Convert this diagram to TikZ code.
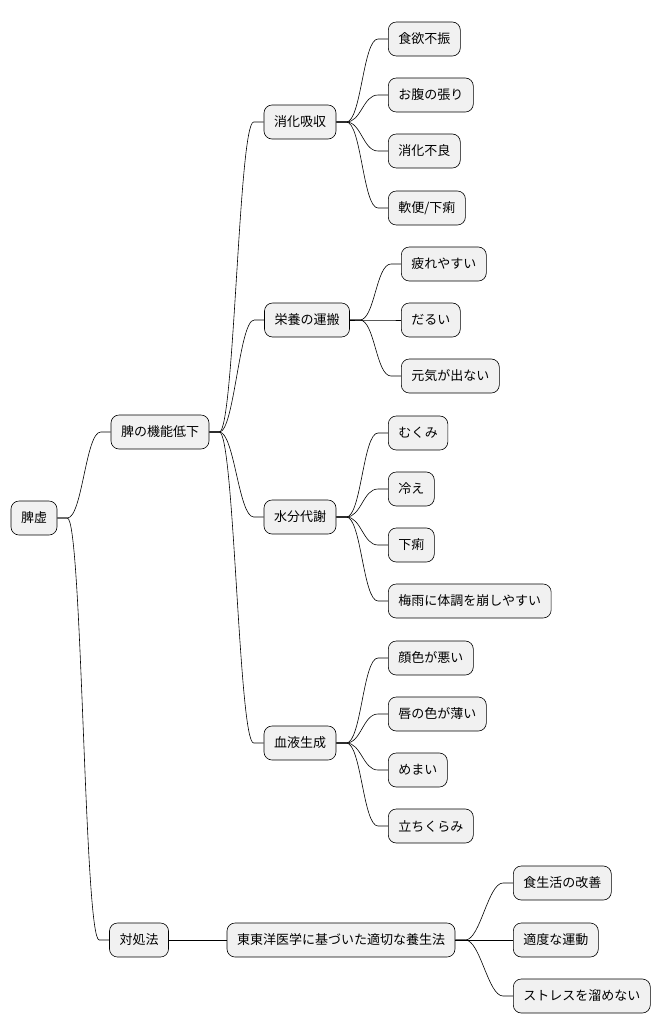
\documentclass[tikz,border=0pt]{standalone}
\usepackage{fontspec}
\setmainfont{Noto Sans CJK JP}
\tikzset{
  mmnode/.style={shape=rectangle, rounded corners=8pt, draw=black, line width=0.6pt,
    fill={rgb,255:red,241;green,241;blue,241}, minimum height=34pt, inner xsep=10pt,
    font=\fontsize{13}{15}\selectfont},
  mmlink/.style={line width=0.6pt}
}
\begin{document}
\begin{tikzpicture}[x=1pt, y=-1pt]
	\useasboundingbox (0,0) rectangle (670,1034);
	% Nodes:
	\node[mmnode] (root) at (34,518){脾虚};
	\node[mmnode] (kino) at (160,432){脾の機能低下};
	\node[mmnode] (taisho) at (139,940){対処法};
	\node[mmnode] (shoka) at (300,122){消化吸収};
	\node[mmnode] (eiyo) at (307,320){栄養の運搬};
	\node[mmnode] (suibun) at (300,517){水分代謝};
	\node[mmnode] (ketsueki) at (300,743){血液生成};
	\node[mmnode] (yojo) at (341,940){東東洋医学に基づいた適切な養生法};
	\node[mmnode, anchor=west] (s1) at (388,39){食欲不振};
	\node[mmnode, anchor=west] (s2) at (388,95){お腹の張り};
	\node[mmnode, anchor=west] (s3) at (388,151){消化不良};
	\node[mmnode, anchor=west] (s4) at (388,208){軟便/下痢};
	\node[mmnode, anchor=west] (e1) at (401,264){疲れやすい};
	\node[mmnode, anchor=west] (e2) at (401,320){だるい};
	\node[mmnode, anchor=west] (e3) at (401,376){元気が出ない};
	\node[mmnode, anchor=west] (w1) at (388,433){むくみ};
	\node[mmnode, anchor=west] (w2) at (388,489){冷え};
	\node[mmnode, anchor=west] (w3) at (388,545){下痢};
	\node[mmnode, anchor=west] (w4) at (388,601){梅雨に体調を崩しやすい};
	\node[mmnode, anchor=west] (b1) at (388,658){顔色が悪い};
	\node[mmnode, anchor=west] (b2) at (388,714){唇の色が薄い};
	\node[mmnode, anchor=west] (b3) at (388,770){めまい};
	\node[mmnode, anchor=west] (b4) at (388,826){立ちくらみ};
	\node[mmnode, anchor=west] (y1) at (513,883){食生活の改善};
	\node[mmnode, anchor=west] (y2) at (513,940){適度な運動};
	\node[mmnode, anchor=west] (y3) at (513,996){ストレスを溜めない};
	% Links:
	\foreach \p/\c in {root/kino, root/taisho, kino/shoka, kino/eiyo, kino/suibun, kino/ketsueki,
	  taisho/yojo, shoka/s1, shoka/s2, shoka/s3, shoka/s4, eiyo/e1, eiyo/e2, eiyo/e3,
	  suibun/w1, suibun/w2, suibun/w3, suibun/w4, ketsueki/b1, ketsueki/b2, ketsueki/b3, ketsueki/b4,
	  yojo/y1, yojo/y2, yojo/y3}
	  \draw[mmlink] (\p.east) -- ++(10,0) .. controls +(15,0) and +(-15,0) .. ([xshift=-10pt]\c.west) -- (\c.west);
\end{tikzpicture}
\end{document}
